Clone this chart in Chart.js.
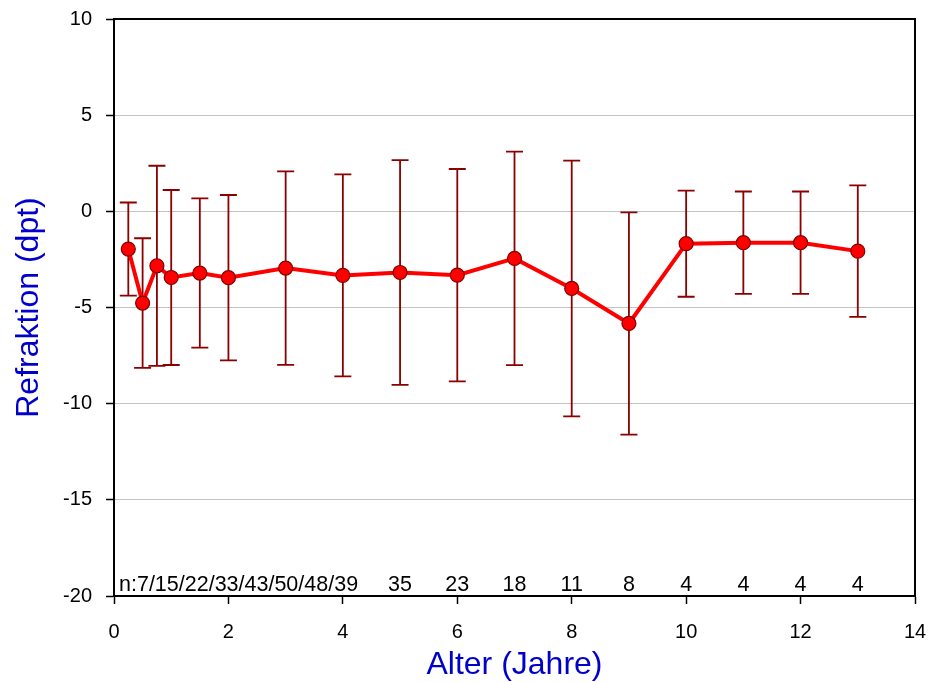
<!DOCTYPE html>
<html>
<head>
<meta charset="utf-8">
<script src="https://cdn.jsdelivr.net/npm/chart.js@4.4.1/dist/chart.umd.min.js"></script>
<style>
  html, body { margin: 0; padding: 0; background: #ffffff; }
  #wrap { width: 929px; height: 682px; }
</style>
</head>
<body>
<div id="wrap"><canvas id="chart" width="929" height="682"></canvas></div>
<script>
// Age groups (years) and refraction statistics (dpt)
const ages  = [0.25, 0.5, 0.75, 1, 1.5, 2, 3, 4, 5, 6, 7, 8, 9, 10, 11, 12, 13];
const means = [-1.96, -4.77, -2.83, -3.44, -3.21, -3.45, -2.95, -3.33, -3.18, -3.32, -2.45, -4.01, -5.83, -1.68, -1.63, -1.63, -2.07];
const sds   = [2.42, 3.37, 5.2, 4.55, 3.88, 4.3, 5.03, 5.25, 5.84, 5.52, 5.55, 6.65, 5.78, 2.76, 2.66, 2.66, 3.42];
// Number of eyes per age group
const counts = [7, 15, 22, 33, 43, 50, 48, 39, 35, 23, 18, 11, 8, 4, 4, 4, 4];
// The first groups are crowded, so their counts are listed in one run of text
const groupedCountAges = 8;

const yTicks = [-20, -15, -10, -5, 0, 5, 10];
const xTicks = [0, 2, 4, 6, 8, 10, 12, 14];

const FONT = '"Liberation Sans", Arial, sans-serif';

const points = ages.map((a, i) => ({ x: a, y: means[i] }));

// Vertical error bars (mean ± SD) with caps
const errorBars = {
  id: 'errorBars',
  beforeDatasetsDraw(chart) {
    const { ctx, scales: { x, y } } = chart;
    ctx.save();
    ctx.strokeStyle = '#8b0000';
    ctx.lineWidth = 1.8;
    const cap = 8.5;
    ages.forEach((a, i) => {
      const px = x.getPixelForValue(a);
      const top = y.getPixelForValue(means[i] + sds[i]);
      const bot = y.getPixelForValue(means[i] - sds[i]);
      ctx.beginPath();
      ctx.moveTo(px, top); ctx.lineTo(px, bot);
      ctx.moveTo(px - cap, top); ctx.lineTo(px + cap, top);
      ctx.moveTo(px - cap, bot); ctx.lineTo(px + cap, bot);
      ctx.stroke();
    });
    ctx.restore();
  }
};

// Sample sizes along the bottom of the plot, plus the frame around the plot area
const annotations = {
  id: 'annotations',
  afterDraw(chart) {
    const { ctx, chartArea: area, scales: { x } } = chart;
    ctx.save();
    ctx.fillStyle = '#000000';
    ctx.font = '21.5px ' + FONT;
    ctx.textBaseline = 'alphabetic';
    const baseY = area.bottom - 5;
    ctx.textAlign = 'left';
    ctx.fillText('n:' + counts.slice(0, groupedCountAges).join('/'), area.left + 5, baseY);
    ctx.textAlign = 'center';
    for (let i = groupedCountAges; i < ages.length; i++) {
      ctx.fillText(String(counts[i]), x.getPixelForValue(ages[i]), baseY);
    }
    ctx.strokeStyle = '#000000';
    ctx.lineWidth = 2;
    ctx.strokeRect(area.left, area.top, area.right - area.left, area.bottom - area.top);
    ctx.restore();
  }
};

new Chart(document.getElementById('chart'), {
  type: 'line',
  data: {
    datasets: [{
      data: points,
      borderColor: '#ff0000',
      borderWidth: 4,
      backgroundColor: '#ff0000',
      pointBackgroundColor: '#ff0000',
      pointBorderColor: '#800000',
      pointBorderWidth: 1.2,
      pointRadius: 7,
      tension: 0,
      clip: false
    }]
  },
  options: {
    responsive: false,
    animation: false,
    layout: { padding: { left: 0, right: 14, top: 19, bottom: 0 } },
    plugins: { legend: { display: false }, tooltip: { enabled: false } },
    scales: {
      x: {
        type: 'linear',
        min: 0, max: 14,
        afterBuildTicks(scale) { scale.ticks = xTicks.map(v => ({ value: v })); },
        afterFit(scale) { scale.height = 86; scale.paddingLeft = 0; scale.paddingRight = 0; },
        ticks: { color: '#000000', font: { family: FONT, size: 20 }, padding: 16 },
        grid: { drawOnChartArea: false, drawTicks: true, tickLength: 8, tickColor: '#000000', tickWidth: 1.5 },
        border: { display: true, color: '#000000', width: 2 },
        title: {
          display: true, text: 'Alter (Jahre)', color: '#0000cc',
          font: { family: FONT, size: 32, lineHeight: 1.2 }, padding: { top: 0, bottom: -2 }
        }
      },
      y: {
        type: 'linear',
        min: -20, max: 10,
        afterBuildTicks(scale) { scale.ticks = yTicks.map(v => ({ value: v })); },
        afterFit(scale) { scale.width = 114; scale.paddingTop = 0; scale.paddingBottom = 0; },
        ticks: { color: '#000000', font: { family: FONT, size: 20 }, padding: 14 },
        grid: { color: '#c4c4c4', lineWidth: 1, drawTicks: true, tickLength: 8, tickColor: '#000000', tickWidth: 1.5 },
        border: { display: true, color: '#000000', width: 2 },
        title: {
          display: true, text: 'Refraktion (dpt)', color: '#0000cc',
          font: { family: FONT, size: 32, lineHeight: 1.2 }, padding: { top: 10, bottom: 0 }
        }
      }
    }
  },
  plugins: [errorBars, annotations]
});
</script>
</body>
</html>
